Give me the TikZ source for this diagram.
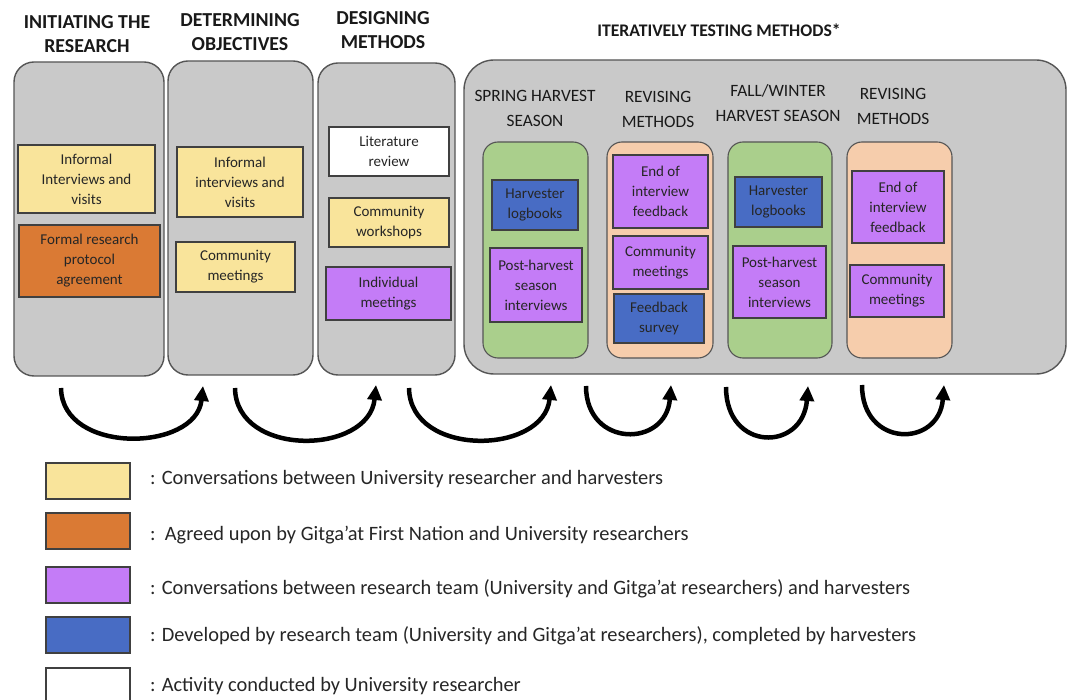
\documentclass[tikz,border=0pt]{standalone}
\usepackage{fontspec}
\setmainfont{Carlito}
\usetikzlibrary{arrows.meta}
\definecolor{panelgray}{RGB}{201,201,201}
\definecolor{panelborder}{RGB}{85,85,85}
\definecolor{cyel}{RGB}{249,228,155}
\definecolor{corange}{RGB}{218,122,52}
\definecolor{cpurple}{RGB}{196,124,247}
\definecolor{cblue}{RGB}{72,108,196}
\definecolor{cgreen}{RGB}{170,207,140}
\definecolor{cpeach}{RGB}{246,205,172}
\begin{document}
\begin{tikzpicture}[x=1pt,y=-1pt,
  panel/.style={draw=panelborder, line width=1.4pt, fill=panelgray, rounded corners=20pt, inner sep=0pt},
  subpanel/.style={draw=panelborder, line width=1.1pt, rounded corners=15pt, inner sep=0pt},
  box/.style={draw=black!75, line width=1.1pt, align=center, inner sep=0pt, text=black!85,
              font=\fontsize{15}{20}\selectfont},
  ybox/.style={box, fill=cyel},
  obox/.style={box, fill=corange},
  pbox/.style={box, fill=cpurple},
  bbox/.style={box, fill=cblue},
  wbox/.style={box, fill=white},
  title/.style={align=center, font=\fontsize{19.8}{24.5}\selectfont\bfseries, text=black!90},
  subtitle/.style={align=center, font=\fontsize{17.3}{25}\selectfont, text=black!90},
  legbox/.style={draw=black!75, line width=1.1pt, minimum width=84, minimum height=36, inner sep=0pt},
  legtext/.style={anchor=west, inner sep=0pt, font=\fontsize{20.4}{24}\selectfont, text=black!85},
  loop/.style={line width=4.5pt, -{Triangle[length=15pt,width=14pt]}}
]
\useasboundingbox (0,0) rectangle (1069,700);

% headers
\node[title] (t1) at (87,34) {INITIATING THE\\RESEARCH};
\node[title] (t2) at (240,32) {DETERMINING\\OBJECTIVES};
\node[title] (t3) at (383,30) {DESIGNING\\METHODS};
\node[title, font=\fontsize{17.7}{22}\selectfont\bfseries] (t4) at (719,30) {ITERATIVELY TESTING METHODS*};

% panels
\node[panel, minimum width=150, minimum height=314] (p1) at (89,219) {};
\node[panel, minimum width=145, minimum height=314] (p2) at (240.5,218) {};
\node[panel, minimum width=137, minimum height=312] (p3) at (386.5,219) {};
\node[panel, rounded corners=30pt, minimum width=602, minimum height=314] (p4) at (765,217) {};

% panel 1
\node[ybox, minimum width=137, minimum height=68] (a1) at (86.5,179) {Informal\\Interviews and\\visits};
\node[obox, minimum width=141, minimum height=72] (a2) at (89.5,261) {Formal research\\protocol\\agreement};
% panel 2
\node[ybox, minimum width=126, minimum height=70] (b1) at (240,182) {Informal\\interviews and\\visits};
\node[ybox, minimum width=119, minimum height=50] (b2) at (235.5,267) {Community\\meetings};
% panel 3
\node[wbox, minimum width=120, minimum height=49] (c1) at (389,151.5) {Literature\\review};
\node[ybox, minimum width=120, minimum height=49] (c2) at (389,222.5) {Community\\workshops};
\node[pbox, minimum width=125, minimum height=53] (c3) at (388.5,293.5) {Individual\\meetings};

% sub headers
\node[subtitle] (s1) at (535,108) {SPRING HARVEST\\SEASON};
\node[subtitle] (s2) at (658,109) {REVISING\\METHODS};
\node[subtitle] (s3) at (778,103) {FALL/WINTER\\HARVEST SEASON};
\node[subtitle] (s4) at (893,106) {REVISING\\METHODS};

% sub panels
\node[subpanel, fill=cgreen, minimum width=105, minimum height=216] (g1) at (535.5,250) {};
\node[subpanel, fill=cpeach, minimum width=106, minimum height=216] (o1) at (660,250) {};
\node[subpanel, fill=cgreen, minimum width=104, minimum height=216] (g2) at (780,250) {};
\node[subpanel, fill=cpeach, minimum width=105, minimum height=216] (o2) at (899.5,250) {};

\node[bbox, minimum width=86, minimum height=50] (d1) at (535,205) {Harvester\\logbooks};
\node[pbox, minimum width=92, minimum height=74] (d2) at (536,285) {Post-harvest\\season\\interviews};
\node[pbox, minimum width=95, minimum height=73] (e1) at (660.5,191.5) {End of\\interview\\feedback};
\node[pbox, minimum width=95, minimum height=53] (e2) at (660.5,262.5) {Community\\meetings};
\node[bbox, minimum width=90, minimum height=49] (e3) at (659,318.5) {Feedback\\survey};
\node[bbox, minimum width=87, minimum height=50] (f1) at (778.5,202) {Harvester\\logbooks};
\node[pbox, minimum width=93, minimum height=72] (f2) at (779.5,282) {Post-harvest\\season\\interviews};
\node[pbox, minimum width=92, minimum height=72] (h1) at (898,207) {End of\\interview\\feedback};
\node[pbox, minimum width=94, minimum height=52] (h2) at (897,291) {Community\\meetings};

% loop arrows
\coordinate (l1a) at (61,388);  \coordinate (l1b) at (203,386);
\coordinate (l2a) at (235,388); \coordinate (l2b) at (376,385);
\coordinate (l3a) at (409,388); \coordinate (l3b) at (551,385);
\coordinate (l4a) at (586,386); \coordinate (l4b) at (671,385);
\coordinate (l5a) at (726,387); \coordinate (l5b) at (808,386);
\coordinate (l6a) at (862,385); \coordinate (l6b) at (944,385);
\draw[loop] (l1a) .. controls (62,455) and (196,452) .. (l1b);
\draw[loop] (l2a) .. controls (236,458) and (369,455) .. (l2b);
\draw[loop] (l3a) .. controls (410,458) and (544,455) .. (l3b);
\draw[loop] (l4a) .. controls (586,448) and (666,448) .. (l4b);
\draw[loop] (l5a) .. controls (726,452) and (803,452) .. (l5b);
\draw[loop] (l6a) .. controls (862,448) and (939,448) .. (l6b);

% legend
\node[legbox, fill=cyel] (k1) at (88,481) {};
\node[legbox, fill=corange] (k2) at (88,531) {};
\node[legbox, fill=cpurple] (k3) at (88,585) {};
\node[legbox, fill=cblue] (k4) at (88,635) {};
\node[legbox, fill=white] (k5) at (88,686) {};
\node[legtext] (k1t) at (150,479) {: Conversations between University researcher and harvesters};
\node[legtext] (k2t) at (150,535) {:\ \ Agreed upon by Gitga’at First Nation and University researchers};
\node[legtext] (k3t) at (150,589) {: Conversations between research team (University and Gitga’at researchers) and harvesters};
\node[legtext] (k4t) at (150,636) {: Developed by research team (University and Gitga’at researchers), completed by harvesters};
\node[legtext] (k5t) at (150,686) {: Activity conducted by University researcher};
\end{tikzpicture}
\end{document}
